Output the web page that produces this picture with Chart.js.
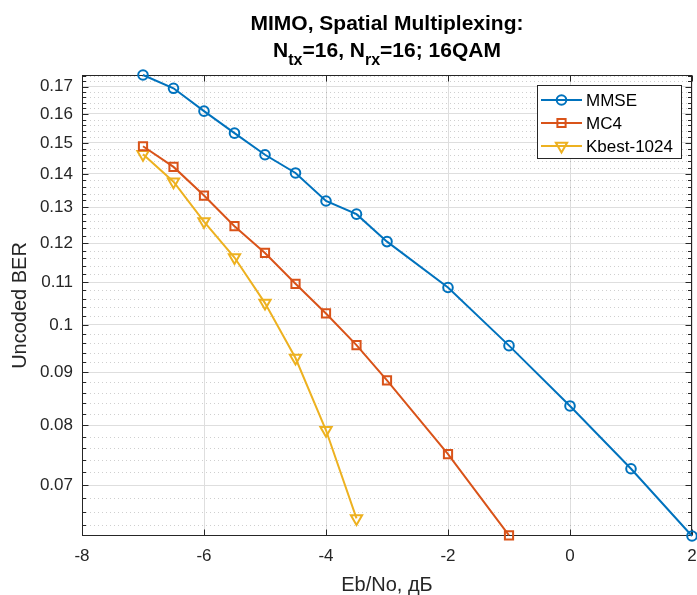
<!DOCTYPE html>
<html>
<head>
<meta charset="utf-8">
<script src="https://cdn.jsdelivr.net/npm/chart.js@4.4.1/dist/chart.umd.min.js"></script>
<style>
  html, body { margin: 0; padding: 0; background: #ffffff; }
  #wrap { width: 697px; height: 595px; position: relative; }
</style>
</head>
<body>
<div id="wrap"><canvas id="c" width="697" height="595"></canvas></div>
<script>
// ---- data ----
const xMMSE   = [-7, -6.5, -6, -5.5, -5, -4.5, -4, -3.5, -3, -2, -1, 0, 1, 2];
const berMMSE = [0.1745, 0.1694, 0.1610, 0.1533, 0.1461, 0.1403, 0.1318, 0.1280, 0.1204, 0.1087, 0.0955, 0.0835, 0.0726, 0.0625];
const xMC4    = [-7, -6.5, -6, -5.5, -5, -4.5, -4, -3.5, -3, -2, -1];
const berMC4  = [0.1489, 0.1422, 0.1334, 0.1246, 0.1174, 0.1096, 0.1026, 0.0956, 0.0884, 0.0750, 0.0626];
const xKbest  = [-7, -6.5, -6, -5.5, -5, -4.5, -4, -3.5];
const berKbest= [0.1463, 0.1376, 0.1259, 0.1162, 0.1050, 0.0929, 0.0791, 0.0650];

const seriesNames = ['MMSE', 'MC4', 'Kbest-1024'];
const xTicks = [-8, -6, -4, -2, 0, 2];
const yMajorTicks = [0.07, 0.08, 0.09, 0.1, 0.11, 0.12, 0.13, 0.14, 0.15, 0.16, 0.17];
const yMinorTicks = [0.064, 0.066, 0.068, 0.072, 0.074, 0.076, 0.078, 0.082, 0.084, 0.086, 0.088,
  0.092, 0.094, 0.096, 0.098, 0.102, 0.104, 0.106, 0.108, 0.112, 0.114, 0.116, 0.118,
  0.122, 0.124, 0.126, 0.128, 0.132, 0.134, 0.136, 0.138, 0.142, 0.144, 0.146, 0.148,
  0.152, 0.154, 0.156, 0.158, 0.162, 0.164, 0.166, 0.168, 0.172, 0.174];
const xRange = [-8, 2];
const yRange = [0.0625, 0.1745];
const titleLine1 = 'MIMO, Spatial Multiplexing:';
const xTitle = 'Eb/No, дБ';
const yTitle = 'Uncoded BER';

const FONT = '"Liberation Sans", Arial, Helvetica, sans-serif';
const AXC = '#262626';
const GRID = '#dedede';

function pts(xs, ys) { return xs.map((x, i) => ({ x: x, y: ys[i] })); }

const isMajor = v => yMajorTicks.some(m => Math.abs(m - v) < 1e-9);

const datasets = [
  { label: seriesNames[0], data: pts(xMMSE, berMMSE), borderColor: '#0072BD',
    pointStyle: 'circle', pointRadius: 4.8, pointRotation: 0 },
  { label: seriesNames[1], data: pts(xMC4, berMC4), borderColor: '#D95319',
    pointStyle: 'rect', pointRadius: 5.8, pointRotation: 0 },
  { label: seriesNames[2], data: pts(xKbest, berKbest), borderColor: '#EDB120',
    pointStyle: 'triangle', pointRadius: 6.5, pointRotation: 180 }
].map(d => Object.assign(d, {
  borderWidth: 2, pointBorderColor: d.borderColor, pointBackgroundColor: 'rgba(0,0,0,0)',
  pointBorderWidth: 2, pointHoverRadius: d.pointRadius, fill: false, tension: 0, clip: false
}));

// Minor grid, frame and inward ticks
const framePlugin = {
  id: 'frame',
  beforeDatasetsDraw(chart) {
    const ctx = chart.ctx, a = chart.chartArea;
    const xs = chart.scales.x, ys = chart.scales.y;
    ctx.save();
    // minor dotted grid
    ctx.strokeStyle = 'rgba(38,38,38,0.22)';
    ctx.lineWidth = 1;
    ctx.setLineDash([1, 3]);
    yMinorTicks.forEach(v => {
      const y = Math.round(ys.getPixelForValue(v)) + 0.5;
      ctx.beginPath(); ctx.moveTo(a.left, y); ctx.lineTo(a.right, y); ctx.stroke();
    });
    ctx.setLineDash([]);
    // frame
    ctx.strokeStyle = AXC;
    ctx.lineWidth = 1;
    const L = Math.round(a.left) + 0.5, R = Math.round(a.right) - 0.5,
          T = Math.round(a.top) + 0.5, B = Math.round(a.bottom) - 0.5;
    ctx.strokeRect(L, T, R - L, B - T);
    // ticks
    ctx.beginPath();
    xTicks.forEach(v => {
      const x = Math.round(xs.getPixelForValue(v)) + 0.5;
      ctx.moveTo(x, B); ctx.lineTo(x, B - 6);
      ctx.moveTo(x, T); ctx.lineTo(x, T + 6);
    });
    yMajorTicks.forEach(v => {
      const y = Math.round(ys.getPixelForValue(v)) + 0.5;
      ctx.moveTo(L, y); ctx.lineTo(L + 6, y);
      ctx.moveTo(R, y); ctx.lineTo(R - 6, y);
    });
    yMinorTicks.forEach(v => {
      const y = Math.round(ys.getPixelForValue(v)) + 0.5;
      ctx.moveTo(L, y); ctx.lineTo(L + 3.5, y);
      ctx.moveTo(R, y); ctx.lineTo(R - 3.5, y);
    });
    ctx.stroke();
    ctx.restore();
  }
};

function drawMarker(ctx, ds, x, y) {
  const opts = { pointStyle: ds.pointStyle, radius: ds.pointRadius, rotation: ds.pointRotation, borderWidth: 2 };
  ctx.strokeStyle = ds.borderColor;
  ctx.fillStyle = 'rgba(0,0,0,0)';
  ctx.lineWidth = 2;
  if (Chart.helpers && Chart.helpers.drawPoint) {
    Chart.helpers.drawPoint(ctx, opts, x, y);
  } else {
    ctx.beginPath(); ctx.arc(x, y, ds.pointRadius, 0, Math.PI * 2); ctx.stroke();
  }
}

// Legend box inside the axes (top-right)
const legendPlugin = {
  id: 'boxLegend',
  afterDraw(chart) {
    const ctx = chart.ctx;
    const bx = 537, by = 85, bw = 145, bh = 74;
    ctx.save();
    ctx.fillStyle = '#ffffff';
    ctx.fillRect(bx, by, bw, bh);
    ctx.strokeStyle = AXC; ctx.lineWidth = 1;
    ctx.strokeRect(bx + 0.5, by + 0.5, bw - 1, bh - 1);
    ctx.font = '17px ' + FONT;
    ctx.textBaseline = 'middle';
    ctx.textAlign = 'left';
    chart.data.datasets.forEach((ds, i) => {
      const yy = by + 15 + i * 23;
      ctx.strokeStyle = ds.borderColor; ctx.lineWidth = 2;
      ctx.beginPath(); ctx.moveTo(541, yy); ctx.lineTo(582, yy); ctx.stroke();
      drawMarker(ctx, ds, 561.5, yy);
      ctx.fillStyle = '#000000';
      ctx.fillText(ds.label, 586, yy + 1);
    });
    ctx.restore();
  }
};

// Two-line bold title with subscripts
const titlePlugin = {
  id: 'subTitle',
  afterDraw(chart) {
    const ctx = chart.ctx, a = chart.chartArea;
    const cx = (a.left + a.right) / 2;
    ctx.save();
    ctx.fillStyle = '#000000';
    ctx.textBaseline = 'alphabetic';
    const big = 'bold 21px ' + FONT, small = 'bold 16px ' + FONT;
    ctx.font = big; ctx.textAlign = 'center';
    ctx.fillText(titleLine1, cx, 30);
    const parts = [
      ['N', big, 0], ['tx', small, 8.5], ['=16, ', big, 0],
      ['N', big, 0], ['rx', small, 8.5], ['=16; 16QAM', big, 0]
    ];
    let total = 0;
    parts.forEach(p => { ctx.font = p[1]; total += ctx.measureText(p[0]).width; });
    let x = cx - total / 2;
    ctx.textAlign = 'left';
    parts.forEach(p => {
      ctx.font = p[1];
      ctx.fillText(p[0], x, 56.5 + p[2]);
      x += ctx.measureText(p[0]).width;
    });
    ctx.restore();
  }
};

new Chart(document.getElementById('c'), {
  type: 'line',
  data: { datasets: datasets },
  options: {
    responsive: false,
    animation: false,
    devicePixelRatio: 1,
    layout: { autoPadding: false, padding: { top: 75, right: 5, left: 0, bottom: 0 } },
    plugins: { legend: { display: false }, tooltip: { enabled: false }, title: { display: false } },
    scales: {
      x: {
        type: 'linear', min: xRange[0], max: xRange[1],
        afterBuildTicks: s => { s.ticks = xTicks.map(v => ({ value: v })); },
        afterFit: s => { s.height = 59; s.paddingLeft = 0; s.paddingRight = 0; },
        ticks: { color: AXC, font: { family: FONT, size: 17 }, padding: 10, maxRotation: 0,
                 callback: v => String(v) },
        grid: { color: GRID, lineWidth: 1, drawTicks: false },
        border: { display: false },
        title: { display: true, text: xTitle, color: AXC, font: { family: FONT, size: 20, lineHeight: 1 },
                 padding: { top: 0, bottom: 0 } }
      },
      y: {
        type: 'logarithmic', min: yRange[0], max: yRange[1], bounds: 'data',
        afterBuildTicks: s => {
          const all = yMajorTicks.concat(yMinorTicks).sort((p, q) => p - q);
          s.ticks = all.map(v => ({ value: v }));
        },
        afterFit: s => { s.width = 82; s.paddingTop = 0; s.paddingBottom = 0; },
        ticks: { color: AXC, font: { family: FONT, size: 17 }, padding: 9, autoSkip: false,
                 callback: v => isMajor(v) ? String(+v.toFixed(2)) : '' },
        grid: { color: c => (c.tick && isMajor(c.tick.value)) ? GRID : 'rgba(0,0,0,0)', lineWidth: 1, drawTicks: false },
        border: { display: false },
        title: { display: true, text: yTitle, color: AXC, font: { family: FONT, size: 20, lineHeight: 1 },
                 padding: { top: 10, bottom: 0 } }
      }
    }
  },
  plugins: [framePlugin, legendPlugin, titlePlugin]
});
</script>
</body>
</html>
